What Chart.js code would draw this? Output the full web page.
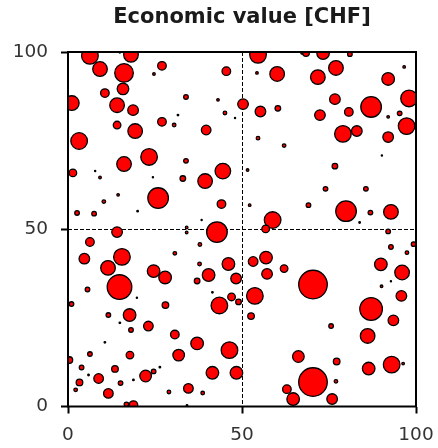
<!DOCTYPE html>
<html>
<head>
<meta charset="utf-8">
<script src="https://cdn.jsdelivr.net/npm/chart.js@4"></script>
<style>
html,body{margin:0;padding:0;background:#fff;}
canvas{display:block;}
</style>
</head>
<body>
<canvas id="c" width="438" height="448"></canvas>
<script>
const titleText = "Economic value [CHF]";
const tickValues = [0, 50, 100];

const xs = [6.3,18.1,9.2,16.1,27.0,24.7,10.6,15.8,1.1,14.1,18.7,14.1,19.3,27.0,30.5,31.6,33.9,43.1,3.2,39.7,
23.3,16.1,1.4,9.2,33.9,33.0,39.4,44.5,25.9,14.4,10.3,2.6,7.5,20.0,44.1,45.1,48.0,45.5,51.6,24.4,
7.8,14.9,34.1,34.1,38.4,14.1,42.8,54.6,67.5,54.3,60.1,50.3,55.3,60.3,54.6,62.1,52.2,58.8,56.8,68.4,
73.3,81.0,77.0,71.8,96.6,92.0,76.7,87.1,98.0,72.4,80.7,92.0,95.3,97.3,79.0,83.0,92.0,90.2,76.7,74.0,
85.6,69.1,79.9,86.9,92.8,83.8,92.0,6.3,4.7,15.5,11.5,14.8,24.6,27.9,30.7,37.9,37.8,40.4,37.1,5.6,
1.0,28.0,17.7,11.6,14.9,23.1,18.1,30.7,10.6,31.8,6.3,17.8,0.4,3.9,13.5,26.4,24.6,22.3,5.9,8.8,
3.3,15.1,18.8,2.2,11.6,29.0,18.8,16.8,37.1,41.5,34.6,38.7,34.2,43.5,41.5,47.0,49.0,48.3,46.1,46.4,
48.4,19.8,56.9,53.2,62.1,57.2,53.7,52.6,70.4,75.6,66.2,70.4,62.9,64.7,75.9,77.2,77.0,92.8,97.4,99.3,
89.9,96.0,90.1,95.8,87.1,93.5,86.1,86.4,93.0,96.3,92.8];

const ys = [98.9,99.2,95.2,94.1,96.1,93.8,88.4,89.6,85.6,85.0,83.6,79.4,77.7,80.3,79.4,82.2,87.3,86.5,74.9,78.0,
70.4,68.4,65.9,64.6,69.3,64.3,63.6,66.4,58.8,59.7,57.8,54.6,54.4,55.1,57.1,82.8,81.4,94.6,66.7,64.7,
66.4,99.9,50.5,49.1,52.6,49.2,49.2,99.2,100.0,94.1,93.8,85.3,83.2,84.1,75.7,73.6,56.8,52.6,50.1,99.7,
99.7,99.4,95.5,92.9,95.8,92.4,86.7,84.5,86.9,82.2,83.1,81.7,82.7,79.1,76.9,77.7,76.0,70.8,67.8,61.4,
61.4,56.8,55.1,54.7,54.9,51.9,49.4,46.4,41.7,42.2,39.1,33.7,38.2,36.4,43.2,45.7,40.2,37.1,35.4,33.0,
28.9,28.6,25.8,25.8,23.6,22.7,21.6,20.3,18.1,14.5,14.8,14.5,13.1,11.0,10.6,11.1,9.9,8.6,8.9,7.9,
6.8,6.6,7.5,4.7,3.7,4.1,0.4,0.6,17.8,9.5,5.1,3.8,0.3,28.5,32.2,30.9,29.5,36.1,40.2,15.9,
9.5,30.7,42.0,40.9,38.9,37.4,31.2,25.5,34.4,22.7,14.1,6.9,4.9,2.1,2.1,12.7,7.1,45.0,43.4,45.8,
40.1,37.8,33.9,31.2,27.5,24.3,19.9,10.7,11.8,12.1,35.3];

const rs = [9,8,8,10,5,2,5,6.5,8,8,6,4.5,8,5,2.5,1.5,3,2,9,5.5,
9,8,4.5,2,3,3.5,8,8.5,11,2,2.5,3,3,1.5,5,2.5,1,5,2,1,
1,1.5,2,2,1,6,11,9,3,2,8,6,6,3.5,2.5,2.5,2,9,4.5,4,
7,3,8,8,2,7,6,11,9,6,5,2,3,9,9,6,6,1,3.5,3,
3,3,11,3,8,1.5,3,5,6,9,8,13,7,7,2.5,2.5,2.5,7,3.5,3,
3,4,7,3,1.5,5.5,3,5,1.5,6.5,3,4.5,4,3,4,1.5,3,6.5,1.5,5.5,
4,3,1.5,2.5,5.5,2.5,5,3,7,7,5.5,2.5,1.5,9,1.5,4.5,3.5,6,7,9,
7,1,7,5.5,4.5,6,9,4,15,3,6.5,15,5,7,6,4,2.5,3,2.5,3,
7,8,2,6,12,6,8,7,9,2,1];

const points = xs.map((x, i) => ({x: x, y: ys[i], r: Math.max(rs[i] - 0.7, 0.6)}));

const framePlugin = {
  id: 'frame',
  afterDatasetsDraw(chart) {
    const {ctx, chartArea: a} = chart;
    ctx.save();
    ctx.strokeStyle = '#000';
    ctx.lineWidth = 2;
    ctx.strokeRect(a.left, a.top, a.right - a.left, a.bottom - a.top);
    ctx.restore();
  }
};

const gridColor = (c) => (c.tick && c.tick.value === 50) ? '#000' : 'rgba(0,0,0,0)';
const tickFont = {family: 'DejaVu Sans', size: 18.5};
const noPad = (s) => { s.paddingLeft = 0; s.paddingRight = 0; s.paddingTop = 0; s.paddingBottom = 0; };

new Chart(document.getElementById('c'), {
  type: 'bubble',
  data: {
    datasets: [{
      data: points,
      backgroundColor: '#ff0000',
      borderColor: '#000',
      borderWidth: 1.3,
      clip: 0
    }]
  },
  options: {
    responsive: false,
    animation: false,
    devicePixelRatio: 1,
    events: [],
    layout: {padding: {left: 0, right: 22, top: 0, bottom: 0}},
    plugins: {
      legend: {display: false},
      tooltip: {enabled: false},
      title: {
        display: true,
        text: titleText,
        fullSize: false,
        color: '#1a1a1a',
        font: {family: 'DejaVu Sans', size: 21, weight: 'bold'},
        padding: {top: 5, bottom: 21.8}
      }
    },
    scales: {
      x: {
        type: 'linear',
        min: 0, max: 100,
        afterBuildTicks: (s) => { s.ticks = tickValues.map(v => ({value: v})); },
        afterFit: (s) => { s.height = 41.5; noPad(s); },
        grid: {color: gridColor, lineWidth: 1, tickColor: '#000', tickWidth: 2, tickLength: 7, tickBorderDash: []},
        border: {display: false, dash: [4, 2]},
        ticks: {color: '#333', font: tickFont, padding: 11, maxRotation: 0}
      },
      y: {
        type: 'linear',
        min: 0, max: 100,
        afterBuildTicks: (s) => { s.ticks = tickValues.map(v => ({value: v})); },
        afterFit: (s) => { s.width = 68; noPad(s); },
        grid: {color: gridColor, lineWidth: 1, tickColor: '#000', tickWidth: 2, tickLength: 7, tickBorderDash: []},
        border: {display: false, dash: [4, 2]},
        ticks: {color: '#333', font: tickFont, padding: 13}
      }
    }
  },
  plugins: [framePlugin]
});
</script>
</body>
</html>
